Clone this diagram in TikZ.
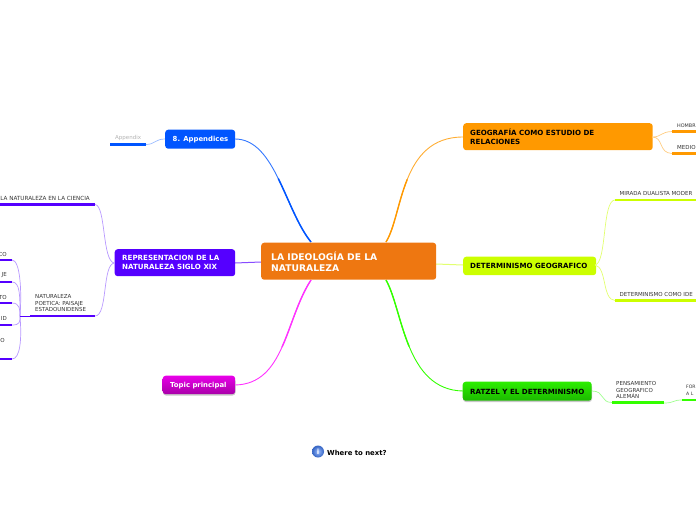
\documentclass[tikz,border=0pt]{standalone}
\usepackage{fontspec}
\setmainfont{DejaVu Sans}
\definecolor{cOrange}{HTML}{EE7711}
\definecolor{cAmber}{HTML}{FF9900}
\definecolor{cAmberL}{HTML}{FFCC80}
\definecolor{cLime}{HTML}{CCFF00}
\definecolor{cLimeL}{HTML}{E2FF70}
\definecolor{cGreen}{HTML}{2CEE00}
\definecolor{cGreenD}{HTML}{1CB800}
\definecolor{cGreenB}{HTML}{33FF00}
\definecolor{cGreenL}{HTML}{A0FF90}
\definecolor{cViolet}{HTML}{5500FF}
\definecolor{cVioletL}{HTML}{B899FF}
\definecolor{cBlue}{HTML}{0055FF}
\definecolor{cBlueL}{HTML}{99BBFF}
\definecolor{cMag}{HTML}{E800E8}
\definecolor{cMagD}{HTML}{A800A8}
\definecolor{cMagB}{HTML}{FF33FF}
\tikzset{
 card/.style={rounded corners=3pt,anchor=north west,inner sep=0pt},
 topic/.style={font=\fontsize{7.1}{9.2}\selectfont\bfseries,align=left,anchor=west,inner sep=0pt},
 leaf/.style={font=\fontsize{5.5}{6.5}\selectfont,text=black!80,align=left,inner sep=0pt},
 bar/.style={line width=2.4pt},
 link/.style={line width=0.7pt},
}
\begin{document}
\begin{tikzpicture}[x=1pt,y=-1pt]
\useasboundingbox (0,0) rectangle (696,520);
% main connectors
\draw[cAmber!80,line width=.9pt] (386,242) .. controls (403,215) and (400,137) .. (463,137);
\draw[cAmber,line width=1.4pt] (386,242) .. controls (394.5,228.5) and (398,202.25) .. (407.25,179.4);
\draw[cLimeL,line width=1pt] (436,264) -- (463,265);
\draw[cGreenB,line width=.9pt] (386,280) .. controls (403,310) and (405,390) .. (463,391);
\draw[cGreenB,line width=1.4pt] (386,280) .. controls (394.5,295) and (399.25,322.5) .. (409.1,346.4);
\draw[cViolet!70,line width=1pt] (235,263) -- (261,262);
\draw[cBlue!80,line width=.9pt] (311,242) .. controls (285,210) and (275,139) .. (235,139);
\draw[cBlue,line width=1.5pt] (311,242) .. controls (298,226) and (289,200.25) .. (278.25,178.5);
\draw[cMagB,line width=.9pt] (311,280) .. controls (285,320) and (285,384) .. (235,385);
\draw[cMagB,line width=1.4pt] (311,280) .. controls (298,300) and (291.5,326) .. (282,347.1);
% central
\node[card,fill=cOrange,minimum width=175pt,minimum height=37pt] (main) at (261,242.5) {};
\node[anchor=west,text=white,font=\fontsize{9.2}{11.3}\selectfont\bfseries,align=left,inner sep=0] (maint) at (271,261.5) {LA IDEOLOGÍA DE LA\\NATURALEZA};
% topics
\node[card,fill=cAmber,minimum width=189.5pt,minimum height=27pt] (geo) at (463,123) {};
\node[topic,text=black] (geot) at (470,137) {GEOGRAFÍA COMO ESTUDIO DE\\RELACIONES};
\node[card,fill=cLime,minimum width=133pt,minimum height=18.5pt] (det) at (463,256.5) {};
\node[topic,text=black] (dett) at (470,266) {DETERMINISMO GEOGRAFICO};
\fill[black!22,rounded corners=3pt] (463,384) rectangle (592,402);
\node[card,top color=cGreen,bottom color=cGreenD,minimum width=129pt,minimum height=19pt] (rat) at (462.5,381.5) {};
\node[topic,text=black] (ratt) at (470,391.5) {RATZEL Y EL DETERMINISMO};
\node[card,fill=cViolet,minimum width=120.5pt,minimum height=27pt] (rep) at (114.5,249) {};
\node[topic,text=white] (rept) at (122,262.5) {REPRESENTACION DE LA\\NATURALEZA SIGLO XIX};
\node[card,fill=cBlue,minimum width=70pt,minimum height=19pt] (app) at (165,129.5) {};
\node[topic,text=white,font=\fontsize{6.9}{9}\selectfont\bfseries] (appt) at (172.5,139.5) {8. Appendices};
\fill[black!22,rounded corners=3pt] (163,378) rectangle (235.5,395.5);
\node[card,top color=cMag,bottom color=cMagD,minimum width=72.5pt,minimum height=18.5pt] (top) at (162.5,375.5) {};
\node[topic,text=white,font=\fontsize{6.9}{9}\selectfont\bfseries] (topt) at (170,385.5) {Topic principal};
% sub connectors
\draw[cAmberL,link] (652,137) .. controls (662,137) and (660,132) .. (672,131.5);
\draw[cAmberL,link] (652,137) .. controls (664,137) and (658,153) .. (672,153.5);
\draw[cLimeL,link] (595,265) .. controls (607,263) and (602,200) .. (615,200);
\draw[cLimeL,link] (595,265) .. controls (607,267) and (602,300) .. (615,300.5);
\draw[cGreenL,link] (592,391) .. controls (605,391) and (600,402.5) .. (612,402.5);
\draw[cGreenL,link] (664,403) .. controls (675,403) and (672,400) .. (682,400);
\draw[cVioletL,link] (114.5,263) .. controls (102,262) and (106,205) .. (95,204.5);
\draw[cVioletL,link] (114.5,263) .. controls (102,264) and (108,316) .. (95,316);
\draw[cBlueL,link] (165,139) .. controls (155,139) and (155,144.5) .. (146,144.5);
\draw[cVioletL,link] (20,316) .. controls (22,290) and (20,260) .. (12,260);
\draw[cVioletL,link] (20,316) .. controls (20,295) and (20,282) .. (12,282);
\draw[cVioletL,link] (20,316) .. controls (20,310) and (20,303) .. (12,303);
\draw[cVioletL,link] (20,316) .. controls (20,322) and (20,325) .. (12,325);
\draw[cVioletL,link] (20,316) .. controls (22,340) and (20,359) .. (12,359);
\draw[cViolet,line width=1pt] (20,316) -- (30,316);
% bars
\draw[bar,cAmber] (672,131.5) -- (696,131.5);
\draw[bar,cAmber] (672,153.5) -- (696,153.5);
\draw[bar,cLime] (615,200) -- (696,200);
\draw[bar,cLime] (615,300.5) -- (696,300.5);
\draw[bar,cGreenB] (612,402.5) -- (664,402.5);
\draw[bar,cGreenB] (682,400) -- (696,400);
\draw[bar,cViolet] (0,204.5) -- (95,204.5);
\draw[bar,cViolet] (30,316) -- (95,316);
\draw[bar,cViolet] (0,260) -- (12,260);
\draw[bar,cViolet] (0,282) -- (12,282);
\draw[bar,cViolet] (0,303) -- (12,303);
\draw[bar,cViolet] (0,325) -- (12,325);
\draw[bar,cViolet] (0,359) -- (12,359);
\draw[bar,cBlue] (110,144.5) -- (146,144.5);
% leaf labels
\node[leaf,anchor=west,font=\fontsize{4.9}{6}\selectfont] (l1) at (677,125.5) {HOMBR};
\node[leaf,anchor=west] (l2) at (677,147) {MEDIO};
\node[leaf,anchor=west] (l3) at (619.5,193) {MIRADA DUALISTA MODER};
\node[leaf,anchor=west] (l4) at (619.5,294.5) {DETERMINISMO COMO IDE};
\node[leaf,anchor=west] (l5) at (616,390) {PENSAMIENTO\\GEOGRAFICO\\ALEMÁN};
\node[leaf,anchor=west,font=\fontsize{4.6}{6.5}\selectfont] (l6) at (686,390.5) {FOR\\A L};
\node[leaf,anchor=east,font=\fontsize{5.65}{6.5}\selectfont] (l7) at (90,198) {LA NATURALEZA EN LA CIENCIA};
\node[leaf,anchor=west] (l8) at (35,303.5) {NATURALEZA\\POETICA: PAISAJE\\ESTADOUNIDENSE};
\node[leaf,anchor=east] (l9) at (7,254) {CO};
\node[leaf,anchor=east] (l10) at (7,275) {JE};
\node[leaf,anchor=east] (l11) at (7,297) {TO};
\node[leaf,anchor=east] (l12) at (7,318) {ID};
\node[leaf,anchor=east] (l13) at (5,340) {O};
\node[leaf,anchor=west,text=black!30] (l14) at (115,138) {Appendix};
% where to next
\shade[inner color=cBlueL,outer color=cBlue!70!black!80] (318,451.5) circle (6pt);
\node[font=\fontsize{7}{8}\selectfont\bfseries,text=white,inner sep=0] (inf) at (318,451.5) {i};
\node[anchor=west,font=\fontsize{6.9}{8}\selectfont\bfseries,text=black,inner sep=0] (next) at (327,452.5) {Where to next?};
\end{tikzpicture}
\end{document}
